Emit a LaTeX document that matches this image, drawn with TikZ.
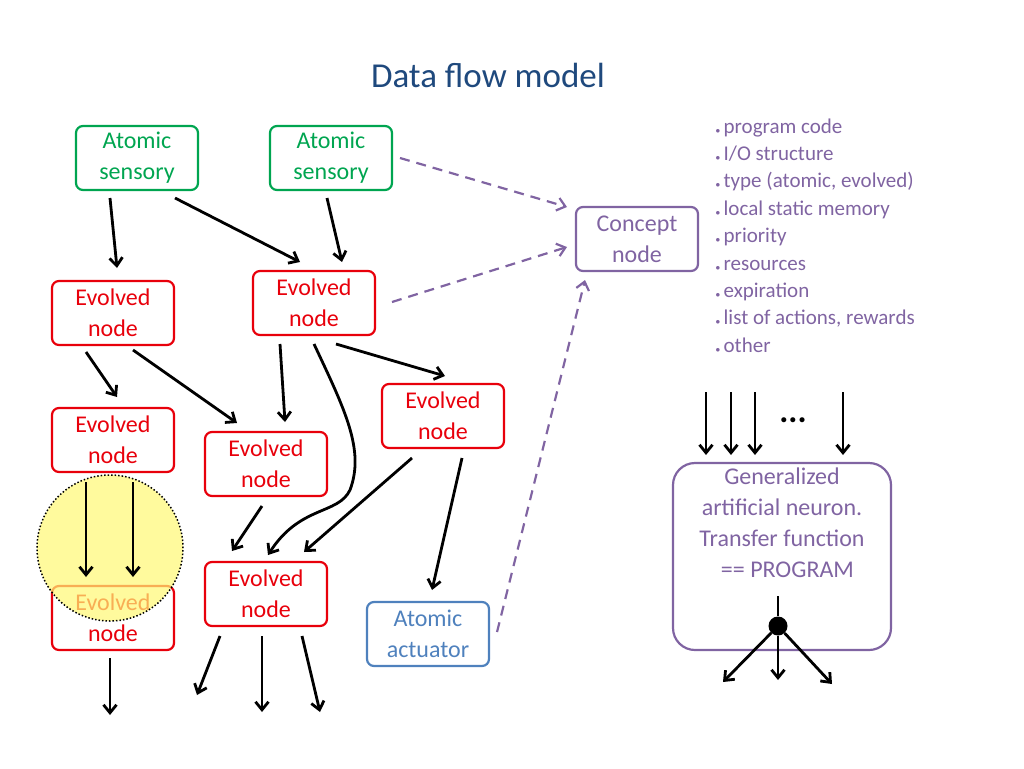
\documentclass[tikz,border=0pt]{standalone}
\usepackage{fontspec}
\setmainfont{Carlito}
\usetikzlibrary{arrows.meta}
\definecolor{tgreen}{HTML}{00A550}
\definecolor{tred}{HTML}{E8000B}
\definecolor{tblue}{HTML}{4F81BD}
\definecolor{tpur}{HTML}{8064A2}
\definecolor{ttitle}{HTML}{1F497D}
\begin{document}
\begin{tikzpicture}[x=1pt,y=-1pt,
  box/.style={draw,rounded corners=7pt,line width=2.2pt,minimum width=122pt,minimum height=64pt,align=center,font=\fontsize{24}{31}\selectfont,inner sep=2pt},
  sens/.style={box,draw=tgreen,text=tgreen},
  evo/.style={box,draw=tred,text=tred},
  act/.style={box,draw=tblue,text=tblue},
  con/.style={box,draw=tpur,text=tpur},
  ar/.style={-{Straight Barb[length=8pt,width=13pt]},line width=2.8pt},
  da/.style={-{Straight Barb[length=8pt,width=13pt]},line width=2.2pt,tpur,dash pattern=on 10pt off 7pt}]
\useasboundingbox (0,0) rectangle (1024,768);
\node[font=\fontsize{35}{40}\selectfont,text=ttitle] (title) at (488,75) {Data flow model};
\node[sens] (s1) at (137,158) {Atomic\\sensory};
\node[sens] (s2) at (331,158) {Atomic\\sensory};
\node[con] (cn) at (637,239) {Concept\\node};
\node[evo] (a) at (113,313) {Evolved\\node};
\node[evo] (b) at (314,303) {Evolved\\node};
\node[evo] (c) at (113,440) {Evolved\\node};
\node[evo] (d) at (266,464) {Evolved\\node};
\node[evo] (e) at (443,416) {Evolved\\node};
\node[evo] (f) at (113,618) {Evolved\\node};
\node[evo] (g) at (266,594) {Evolved\\node};
\node[act] (ac) at (428,634) {Atomic\\actuator};
\node[draw=tpur,line width=2.2pt,rounded corners=22pt,minimum width=218pt,minimum height=187pt] (gn) at (782,556.5) {};
\node[align=center,text=tpur,font=\fontsize{24}{31}\selectfont,anchor=north] (gt) at (782,464) {Generalized\\artificial neuron.\\Transfer function\\\ \ == PROGRAM};
\node[align=left,anchor=north west,text=tpur,font=\fontsize{21}{27.4}\selectfont] (list) at (712,115) {%
{\small$\bullet$}\,program code\\{\small$\bullet$}\,I/O structure\\{\small$\bullet$}\,type (atomic, evolved)\\{\small$\bullet$}\,local static memory\\{\small$\bullet$}\,priority\\{\small$\bullet$}\,resources\\{\small$\bullet$}\,expiration\\{\small$\bullet$}\,list of actions, rewards\\{\small$\bullet$}\,other};
\node[circle,draw,dotted,line width=1.5pt,fill=yellow!55,fill opacity=0.7,minimum size=146pt] (cir) at (110,548) {};
\draw[ar] (110,198) -- (117,268);
\draw[ar] (175,198) -- (300,262);
\draw[ar] (327,198) -- (342,262);
\draw[da] (400,158) -- (567,207);
\draw[da] (392,302) -- (567,247);
\draw[da] (497,632) -- (585,280);
\draw[ar] (86,352) -- (117,397);
\draw[ar] (133,350) -- (237,423);
\draw[ar] (280,344) -- (285,422);
\draw[ar] (314,344) .. controls (345,410) and (365,450) .. (350,490) .. controls (338,515) and (300,505) .. (268,555);
\draw[ar] (336,344) -- (445,376);
\draw[ar] (262,506) -- (232,551);
\draw[ar] (412,458) -- (304,552);
\draw[ar] (462,458) -- (432,590);
\draw[ar] (86,482) -- (86,577);
\draw[ar] (133,482) -- (133,577);
\draw[ar] (110,658) -- (110,715);
\draw[ar] (220,636) -- (197,695);
\draw[ar] (262,636) -- (262,712);
\draw[ar] (302,636) -- (320,712);
\foreach \xx in {706,731,755,843} \draw[ar] (\xx,392) -- (\xx,455);
\node[font=\fontsize{34}{34}\selectfont\bfseries] (dots) at (793,420) {...};
\node[circle,fill=black,inner sep=0pt,minimum size=19pt] (dot) at (778,626) {};
\draw[line width=2.8pt] (778,596) -- (dot);
\draw[ar] (dot) -- (723,682);
\draw[ar] (dot) -- (778,680);
\draw[ar] (dot) -- (832,684);
\end{tikzpicture}
\end{document}
